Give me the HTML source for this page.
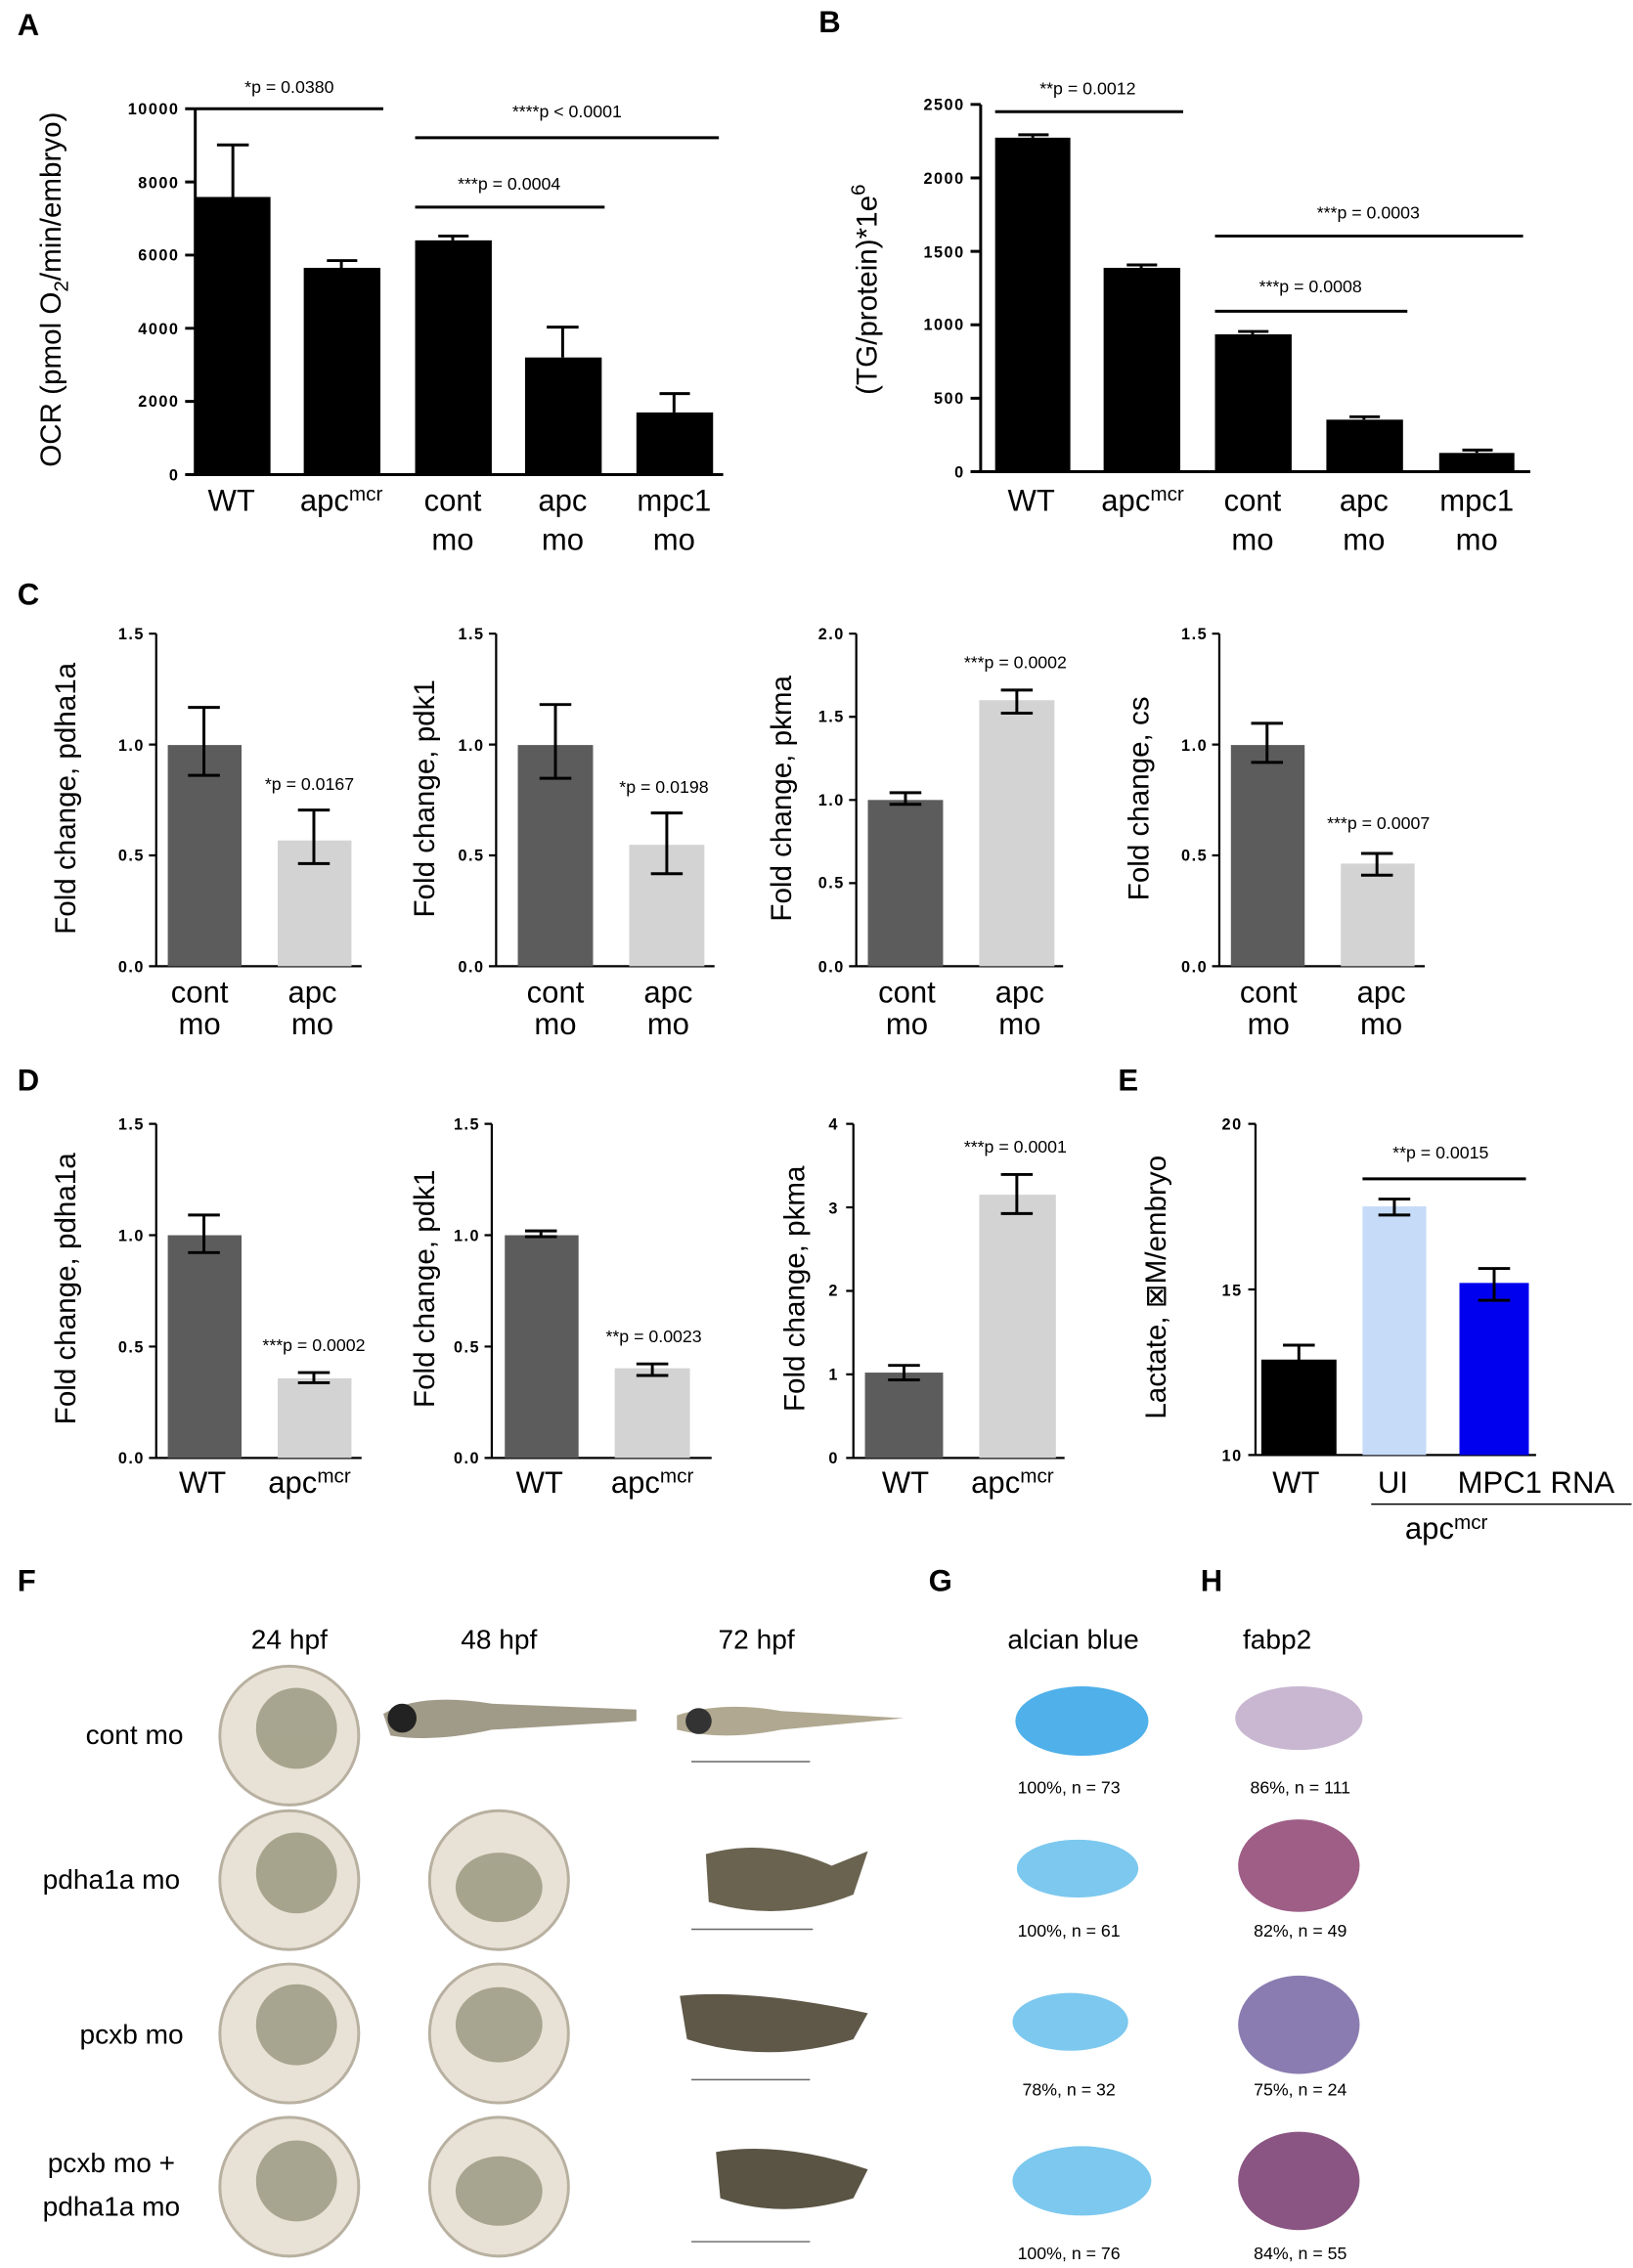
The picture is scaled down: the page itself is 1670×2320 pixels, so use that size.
<!DOCTYPE html>
<html><head><meta charset="utf-8"><style>
html,body{margin:0;padding:0;background:#fff}
svg{display:block}
text{font-family:"Liberation Sans",Arial,sans-serif;fill:#000}
.t{font-size:12px}.lab{font-size:21px}.yl{font-size:20px}.pl{font-size:21px;font-weight:bold}.tk{font-size:11px;font-weight:bold;letter-spacing:1px}.ph{font-size:19px}.pc{font-size:12px}
</style></head><body>
<svg width="1670" height="2320" viewBox="0 0 1129 1568" xmlns="http://www.w3.org/2000/svg">
<rect width="1129" height="1568" fill="#fff"/>
<g stroke="#000" stroke-width="2" fill="none">
<path d="M135 75V328H500"/>
<path d="M128 75H135M128 125.6H135M128 176.2H135M128 226.8H135M128 277.4H135M128 328H135"/>
<path d="M678 72V326H1058"/>
<path d="M671 72H678M671 122.8H678M671 173.6H678M671 224.4H678M671 275.2H678M671 326H678"/>
</g>
<g class="tk" text-anchor="end">
<text x="124" y="79" class="tk">10000</text><text x="124" y="130" class="tk">8000</text><text x="124" y="180" class="tk">6000</text><text x="124" y="231" class="tk">4000</text><text x="124" y="281" class="tk">2000</text><text x="124" y="332" class="tk">0</text>
<text x="667" y="76" class="tk">2500</text><text x="667" y="127" class="tk">2000</text><text x="667" y="178" class="tk">1500</text><text x="667" y="228" class="tk">1000</text><text x="667" y="279" class="tk">500</text><text x="667" y="330" class="tk">0</text>
</g>
<g fill="#000">
<rect x="135" y="136" width="52" height="192"/><rect x="210" y="185" width="53" height="143"/><rect x="287" y="166" width="53" height="162"/><rect x="363" y="247" width="53" height="81"/><rect x="440" y="285" width="53" height="43"/>
<rect x="688" y="95" width="52" height="231"/><rect x="763" y="185" width="53" height="141"/><rect x="840" y="231" width="53" height="95"/><rect x="917" y="290" width="53" height="36"/><rect x="995" y="313" width="52" height="13"/>
</g>
<g stroke="#000" stroke-width="2">
<path d="M161 136V100M150 100H172M236 185V180M226 180H247M313 166V163M303 163H324M389 247V226M378 226H400M466 285V272M456 272H477"/>
<path d="M714 95V93M704 93H725M789 185V183M779 183H800M866 231V229M856 229H877M943 290V288M933 288H954M1021 313V311M1011 311H1032"/>
<path d="M135 75H265M287 95H497M287 143H418"/>
<path d="M688 77H818M840 163H1053M840 215H973"/>
</g>
<g class="t" text-anchor="middle">
<text x="200" y="64">*p = 0.0380</text><text x="392" y="81">****p &lt; 0.0001</text><text x="352" y="131">***p = 0.0004</text>
<text x="752" y="65">**p = 0.0012</text><text x="946" y="151">***p = 0.0003</text><text x="906" y="202">***p = 0.0008</text>
</g>
<g class="lab" text-anchor="middle">
<text x="160" y="353">WT</text><text x="236" y="353">apc<tspan font-size="14" dy="-7">mcr</tspan></text><text x="313" y="353">cont</text><text x="313" y="380">mo</text><text x="389" y="353">apc</text><text x="389" y="380">mo</text><text x="466" y="353">mpc1</text><text x="466" y="380">mo</text>
<text x="713" y="353">WT</text><text x="790" y="353">apc<tspan font-size="14" dy="-7">mcr</tspan></text><text x="866" y="353">cont</text><text x="866" y="380">mo</text><text x="943" y="353">apc</text><text x="943" y="380">mo</text><text x="1021" y="353">mpc1</text><text x="1021" y="380">mo</text>
</g>
<text class="yl" transform="translate(42,200) rotate(-90)" text-anchor="middle">OCR (pmol O<tspan font-size="14" dy="5">2</tspan><tspan dy="-5">/min/embryo)</tspan></text>
<text class="yl" transform="translate(606,200) rotate(-90)" text-anchor="middle">(TG/protein)*1e<tspan font-size="14" dy="-8">6</tspan></text>

<!-- C -->
<g stroke="#000" stroke-width="1.5" fill="none">
<path d="M108 438V668H250M103 438H108M103 514.7H108M103 591.3H108M103 668H108"/>
<path d="M343 438V668H494M338 438H343M338 514.7H343M338 591.3H343M338 668H343"/>
<path d="M592 438V668H735M587 438H592M587 495.5H592M587 553H592M587 610.5H592M587 668H592"/>
<path d="M843 438V668H985M838 438H843M838 514.7H843M838 591.3H843M838 668H843"/>
</g>
<g class="tk" text-anchor="end" font-size="10">
<text x="100" y="442">1.5</text><text x="100" y="519">1.0</text><text x="100" y="595">0.5</text><text x="100" y="672">0.0</text>
<text x="335" y="442">1.5</text><text x="335" y="519">1.0</text><text x="335" y="595">0.5</text><text x="335" y="672">0.0</text>
<text x="584" y="442">2.0</text><text x="584" y="499">1.5</text><text x="584" y="557">1.0</text><text x="584" y="614">0.5</text><text x="584" y="672">0.0</text>
<text x="835" y="442">1.5</text><text x="835" y="519">1.0</text><text x="835" y="595">0.5</text><text x="835" y="672">0.0</text>
</g>
<g fill="#5c5c5c"><rect x="116" y="515" width="51" height="153"/><rect x="358" y="515" width="52" height="153"/><rect x="600" y="553" width="52" height="115"/><rect x="851" y="515" width="51" height="153"/></g>
<g fill="#d3d3d3"><rect x="192" y="581" width="51" height="87"/><rect x="435" y="584" width="52" height="84"/><rect x="677" y="484" width="52" height="184"/><rect x="927" y="597" width="51" height="71"/></g>
<g stroke="#000" stroke-width="2">
<path d="M141 536V489M130 536H152M130 489H152M217 597V560M206 597H228M206 560H228"/>
<path d="M384 538V487M373 538H395M373 487H395M461 604V562M450 604H472M450 562H472"/>
<path d="M626 556V548M615 556H637M615 548H637M703 493V477M692 493H714M692 477H714"/>
<path d="M876 527V500M865 527H887M865 500H887M952 605V590M941 605H963M941 590H963"/>
</g>
<g class="t" text-anchor="middle">
<text x="214" y="546">*p = 0.0167</text><text x="459" y="548">*p = 0.0198</text><text x="702" y="462">***p = 0.0002</text><text x="953" y="573">***p = 0.0007</text>
</g>
<g class="lab" text-anchor="middle" font-size="20">
<text x="138" y="693">cont</text><text x="138" y="715">mo</text><text x="216" y="693">apc</text><text x="216" y="715">mo</text>
<text x="384" y="693">cont</text><text x="384" y="715">mo</text><text x="462" y="693">apc</text><text x="462" y="715">mo</text>
<text x="627" y="693">cont</text><text x="627" y="715">mo</text><text x="705" y="693">apc</text><text x="705" y="715">mo</text>
<text x="877" y="693">cont</text><text x="877" y="715">mo</text><text x="955" y="693">apc</text><text x="955" y="715">mo</text>
</g>
<g class="yl" text-anchor="middle" font-size="19">
<text transform="translate(52,552) rotate(-90)">Fold change, pdha1a</text>
<text transform="translate(300,552) rotate(-90)">Fold change, pdk1</text>
<text transform="translate(547,552) rotate(-90)">Fold change, pkma</text>
<text transform="translate(794,552) rotate(-90)">Fold change, cs</text>
</g>

<!-- D -->
<g stroke="#000" stroke-width="1.5" fill="none">
<path d="M108 777V1008H250M103 777H108M103 854H108M103 931H108M103 1008H108"/>
<path d="M340 777V1008H492M335 777H340M335 854H340M335 931H340M335 1008H340"/>
<path d="M590 777V1008H736M585 777H590M585 834.75H590M585 892.5H590M585 950.25H590M585 1008H590"/>
</g>
<g class="tk" text-anchor="end" font-size="10">
<text x="100" y="781">1.5</text><text x="100" y="858">1.0</text><text x="100" y="935">0.5</text><text x="100" y="1012">0.0</text>
<text x="332" y="781">1.5</text><text x="332" y="858">1.0</text><text x="332" y="935">0.5</text><text x="332" y="1012">0.0</text>
<text x="580" y="781">4</text><text x="580" y="839">3</text><text x="580" y="896">2</text><text x="580" y="954">1</text><text x="580" y="1012">0</text>
</g>
<g fill="#5c5c5c"><rect x="116" y="854" width="51" height="154"/><rect x="349" y="854" width="51" height="154"/><rect x="598" y="949" width="54" height="59"/></g>
<g fill="#d3d3d3"><rect x="192" y="953" width="51" height="55"/><rect x="425" y="946" width="52" height="62"/><rect x="677" y="826" width="53" height="182"/></g>
<g stroke="#000" stroke-width="2">
<path d="M141 866V840M130 866H152M130 840H152M217 956V949M206 956H228M206 949H228"/>
<path d="M374 855V851M363 855H385M363 851H385M451 951V943M440 951H462M440 943H462"/>
<path d="M625 954V944M614 954H636M614 944H636M703 839V812M692 839H714M692 812H714"/>
</g>
<g class="t" text-anchor="middle">
<text x="217" y="934">***p = 0.0002</text><text x="452" y="928">**p = 0.0023</text><text x="702" y="797">***p = 0.0001</text>
</g>
<g class="lab" text-anchor="middle" font-size="20">
<text x="140" y="1032">WT</text><text x="214" y="1032">apc<tspan font-size="14" dy="-7">mcr</tspan></text>
<text x="373" y="1032">WT</text><text x="451" y="1032">apc<tspan font-size="14" dy="-7">mcr</tspan></text>
<text x="626" y="1032">WT</text><text x="700" y="1032">apc<tspan font-size="14" dy="-7">mcr</tspan></text>
</g>
<g class="yl" text-anchor="middle" font-size="19">
<text transform="translate(52,891) rotate(-90)">Fold change, pdha1a</text>
<text transform="translate(300,891) rotate(-90)">Fold change, pdk1</text>
<text transform="translate(556,891) rotate(-90)">Fold change, pkma</text>
</g>

<!-- E -->
<g stroke="#000" stroke-width="1.5" fill="none">
<path d="M868 777V1006H1062M863 777H868M863 891.5H868M863 1006H868"/>
</g>
<g class="tk" text-anchor="end" font-size="10"><text x="859" y="781">20</text><text x="859" y="896">15</text><text x="859" y="1010">10</text></g>
<rect x="872" y="940" width="52" height="66" fill="#000"/>
<rect x="942" y="834" width="44" height="172" fill="#c6dbf7"/>
<rect x="1009" y="887" width="48" height="119" fill="#0000ee"/>
<g stroke="#000" stroke-width="2">
<path d="M898 946V930M887 946H909M887 930H909M964 840V829M953 840H975M953 829H975M1033 899V877M1022 899H1044M1022 877H1044"/>
<path d="M942 815H1055"/>
<path d="M948 1040H1128" stroke-width="1"/>
</g>
<text class="t" x="996" y="801" text-anchor="middle">**p = 0.0015</text>
<g class="lab" text-anchor="middle" font-size="20">
<text x="896" y="1032">WT</text><text x="963" y="1032">UI</text><text x="1062" y="1032">MPC1 RNA</text><text x="1000" y="1064">apc<tspan font-size="14" dy="-7">mcr</tspan></text>
</g>
<text class="yl" font-size="19" transform="translate(806,890) rotate(-90)" text-anchor="middle">Lactate, ⊠M/embryo</text>

<g class="pl"><text x="12" y="24">A</text><text x="566" y="22">B</text><text x="12" y="418">C</text><text x="12" y="754">D</text><text x="773" y="754">E</text><text x="12" y="1100">F</text><text x="642" y="1100">G</text><text x="830" y="1100">H</text></g>

<g class="ph" text-anchor="middle">
<text x="200" y="1140">24 hpf</text><text x="345" y="1140">48 hpf</text><text x="523" y="1140">72 hpf</text><text x="742" y="1140">alcian blue</text><text x="883" y="1140">fabp2</text>
<text x="93" y="1206">cont mo</text><text x="77" y="1306">pdha1a mo</text><text x="91" y="1413">pcxb mo</text><text x="77" y="1502">pcxb mo +</text><text x="77" y="1532">pdha1a mo</text>
</g>
<g fill="#e8e2d6" stroke="#b8b0a0" stroke-width="2">
<circle cx="200" cy="1200" r="48"/><circle cx="200" cy="1300" r="48"/><circle cx="200" cy="1406" r="48"/><circle cx="200" cy="1512" r="48"/>
<circle cx="345" cy="1300" r="48"/><circle cx="345" cy="1406" r="48"/><circle cx="345" cy="1512" r="48"/>
</g>
<g fill="#8c8a70" opacity="0.7">
<circle cx="205" cy="1195" r="28"/><circle cx="205" cy="1295" r="28"/><circle cx="205" cy="1400" r="28"/><circle cx="205" cy="1508" r="28"/>
<ellipse cx="345" cy="1305" rx="30" ry="24"/><ellipse cx="345" cy="1400" rx="30" ry="26"/><ellipse cx="345" cy="1515" rx="30" ry="24"/>
</g>
<path d="M265 1185 Q290 1170 340 1178 L440 1182 L440 1190 L340 1196 Q300 1205 270 1200Z" fill="#a09a88"/>
<circle cx="278" cy="1188" r="10" fill="#222"/>
<path d="M468 1186 Q500 1176 540 1183 L625 1188 L540 1196 Q500 1204 468 1196Z" fill="#b0a890"/>
<circle cx="483" cy="1190" r="9" fill="#333"/>
<path d="M488 1282 Q530 1270 575 1290 L600 1280 L590 1310 Q540 1330 490 1315Z" fill="#6a6350"/>
<path d="M470 1380 Q520 1375 600 1392 L590 1410 Q530 1428 475 1410Z" fill="#5f5848"/>
<path d="M495 1488 Q540 1480 600 1500 L590 1520 Q540 1535 498 1520Z" fill="#5a5444"/>
<g stroke="#666" stroke-width="1"><path d="M478 1218H560M478 1334H562M478 1438H560M478 1550H560"/></g>
<g fill="#7cc8ef">
<ellipse cx="748" cy="1190" rx="46" ry="24" fill="#4fb0ea"/><ellipse cx="745" cy="1292" rx="42" ry="20"/><ellipse cx="740" cy="1398" rx="40" ry="20"/><ellipse cx="748" cy="1508" rx="48" ry="24"/>
</g>
<g>
<ellipse cx="898" cy="1188" rx="44" ry="22" fill="#c9b7d2"/><ellipse cx="898" cy="1290" rx="42" ry="32" fill="#9e5e86"/><ellipse cx="898" cy="1400" rx="42" ry="34" fill="#8a7cb0"/><ellipse cx="898" cy="1508" rx="42" ry="34" fill="#8a5582"/>
</g>
<g class="pc" text-anchor="middle">
<text x="739" y="1240">100%, n = 73</text><text x="739" y="1339">100%, n = 61</text><text x="739" y="1449">78%, n = 32</text><text x="739" y="1562">100%, n = 76</text>
<text x="899" y="1240">86%, n = 111</text><text x="899" y="1339">82%, n = 49</text><text x="899" y="1449">75%, n = 24</text><text x="899" y="1562">84%, n = 55</text>
</g>
</svg>
</body></html>
